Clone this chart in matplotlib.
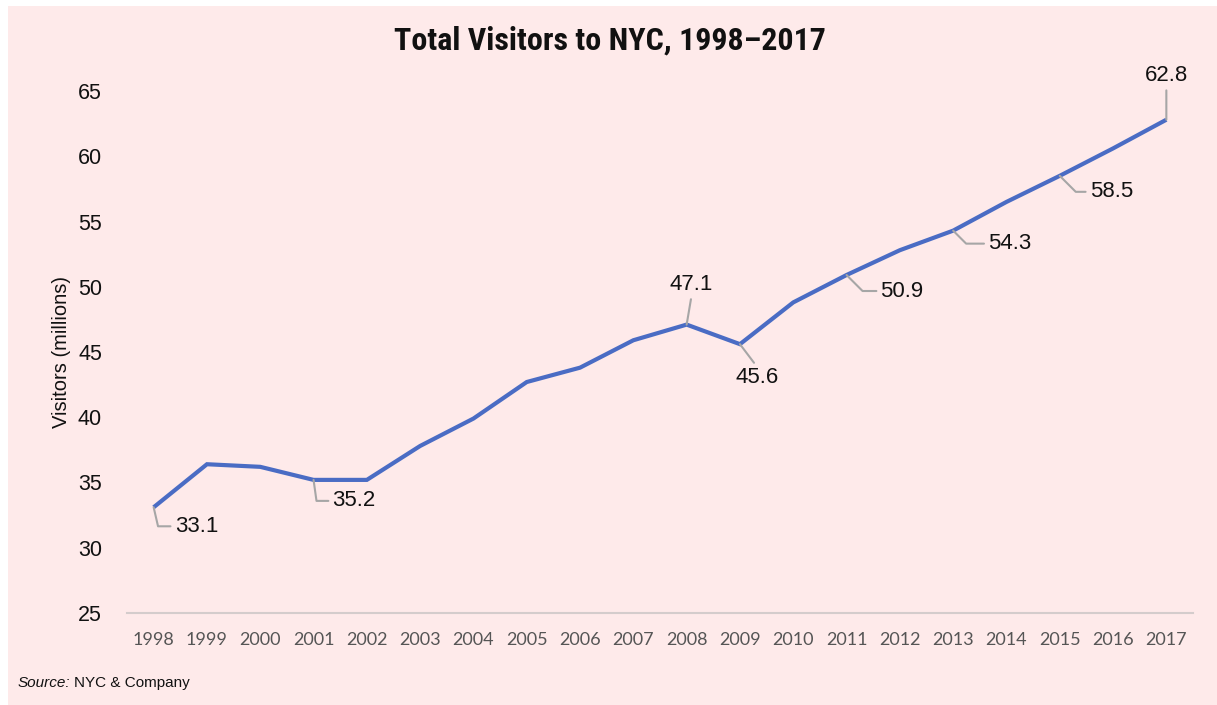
import matplotlib
matplotlib.use("Agg")
import matplotlib.pyplot as plt
from matplotlib.patches import Rectangle
from matplotlib import font_manager

# Dados
years = list(range(1998, 2018))
visitors = [33.1, 36.4, 36.2, 35.2, 35.2, 37.8, 39.9, 42.7, 43.8, 45.9,
            47.1, 45.6, 48.8, 50.9, 52.8, 54.3, 56.5, 58.5, 60.6, 62.8]

# Rótulos: ano -> (deslocamento em pixels, alinhamento, estilo do conector)
label_years = [1998, 2001, 2008, 2009, 2011, 2013, 2015, 2017]
label_offsets = [(21, -19), (19, -21), (5, 40), (17, -33),
                 (34, -16), (35, -13), (30, -16), (0, 44)]
label_ha = ["left", "left", "center", "center", "left", "left", "left", "center"]
label_conn = ["angle,angleA=0,angleB=-77,rad=0",
              "angle,angleA=0,angleB=-82,rad=0",
              "arc3", "arc3",
              "angle,angleA=0,angleB=-45,rad=0",
              "angle,angleA=0,angleB=-45,rad=0",
              "angle,angleA=0,angleB=-45,rad=0",
              "arc3"]

bg = "#feeaea"
blue = "#4a6cc4"
grey = "#a6a6a6"

fig = plt.figure(figsize=(12.17, 7.05), dpi=100, facecolor="white")
fig.patches.append(Rectangle((8 / 1217, 0), 1 - 8 / 1217, 1 - 6 / 705,
                             transform=fig.transFigure, facecolor=bg,
                             edgecolor="none", zorder=-10))

ax = fig.add_axes([127 / 1217, 1 - 613 / 705, (1193 - 127) / 1217, (613 - 91) / 705])
ax.set_facecolor("none")

ax.plot(years, visitors, color=blue, linewidth=3.0, solid_joinstyle="miter",
        solid_capstyle="butt", zorder=3)

ax.set_xlim(1997.5, 2017.5)
ax.set_ylim(25, 65)
ax.set_yticks(range(25, 66, 5))
ax.set_xticks(years)
ax.set_xticklabels([str(y) for y in years], family="Lato", fontsize=13, color="#555555")
for t in ax.get_yticklabels():
    t.set_family(["Liberation Sans", "DejaVu Sans"])
    t.set_fontsize(15.5)
    t.set_color("#111111")
ax.tick_params(axis="both", length=0)
ax.tick_params(axis="x", pad=14)
ax.tick_params(axis="y", pad=18)

for side in ["top", "right", "left"]:
    ax.spines[side].set_visible(False)
ax.spines["bottom"].set_color("#d4cccc")
ax.spines["bottom"].set_linewidth(1.5)

ax.set_ylabel("Visitors (millions)", family=["Liberation Sans", "DejaVu Sans"],
              fontsize=14.5, color="#111111", labelpad=5)

for yr, off, ha, conn in zip(label_years, label_offsets, label_ha, label_conn):
    val = visitors[years.index(yr)]
    if ha == "left":
        relpos = (0, 0.5)
    elif off[1] > 0:
        relpos = (0.5, 0)
    else:
        relpos = (0.5, 1)
    ax.annotate(f"{val:.1f}", xy=(yr, val), xytext=off, textcoords="offset pixels",
                ha=ha, va="center", fontsize=16, color="#111111",
                family=["Liberation Sans", "DejaVu Sans"], annotation_clip=False,
                arrowprops=dict(arrowstyle="-", color=grey, linewidth=1.5,
                                connectionstyle=conn, relpos=relpos,
                                shrinkA=1, shrinkB=0))

# Título em fonte condensada, se existir
names = {f.name for f in font_manager.fontManager.ttflist}
cond = [n for n in ["Liberation Sans Narrow", "DejaVu Sans Condensed", "Roboto Condensed",
                    "Open Sans Condensed"] if n in names]
if cond:
    title_kw = dict(family=[cond[0], "DejaVu Sans"], fontsize=23)
else:
    title_kw = dict(family=["Roboto", "DejaVu Sans"], fontsize=20)
fig.text(610 / 1217, 1 - 41 / 705, "Total Visitors to NYC, 1998\u20132017",
         ha="center", va="center", fontweight="bold", color="#111111", **title_kw)

src = fig.text(18 / 1217, 1 - 690 / 705, "Source:", ha="left", va="bottom",
               fontsize=11, style="italic", family=["Liberation Sans", "DejaVu Sans"],
               color="#111111")
ax.annotate("NYC & Company", xy=(1, 0), xycoords=src, xytext=(3, 0),
            textcoords="offset pixels", ha="left", va="bottom",
            fontsize=11, family=["Liberation Sans", "DejaVu Sans"], color="#111111",
            annotation_clip=False)

fig.savefig("out.png", dpi=100, facecolor=fig.get_facecolor())
